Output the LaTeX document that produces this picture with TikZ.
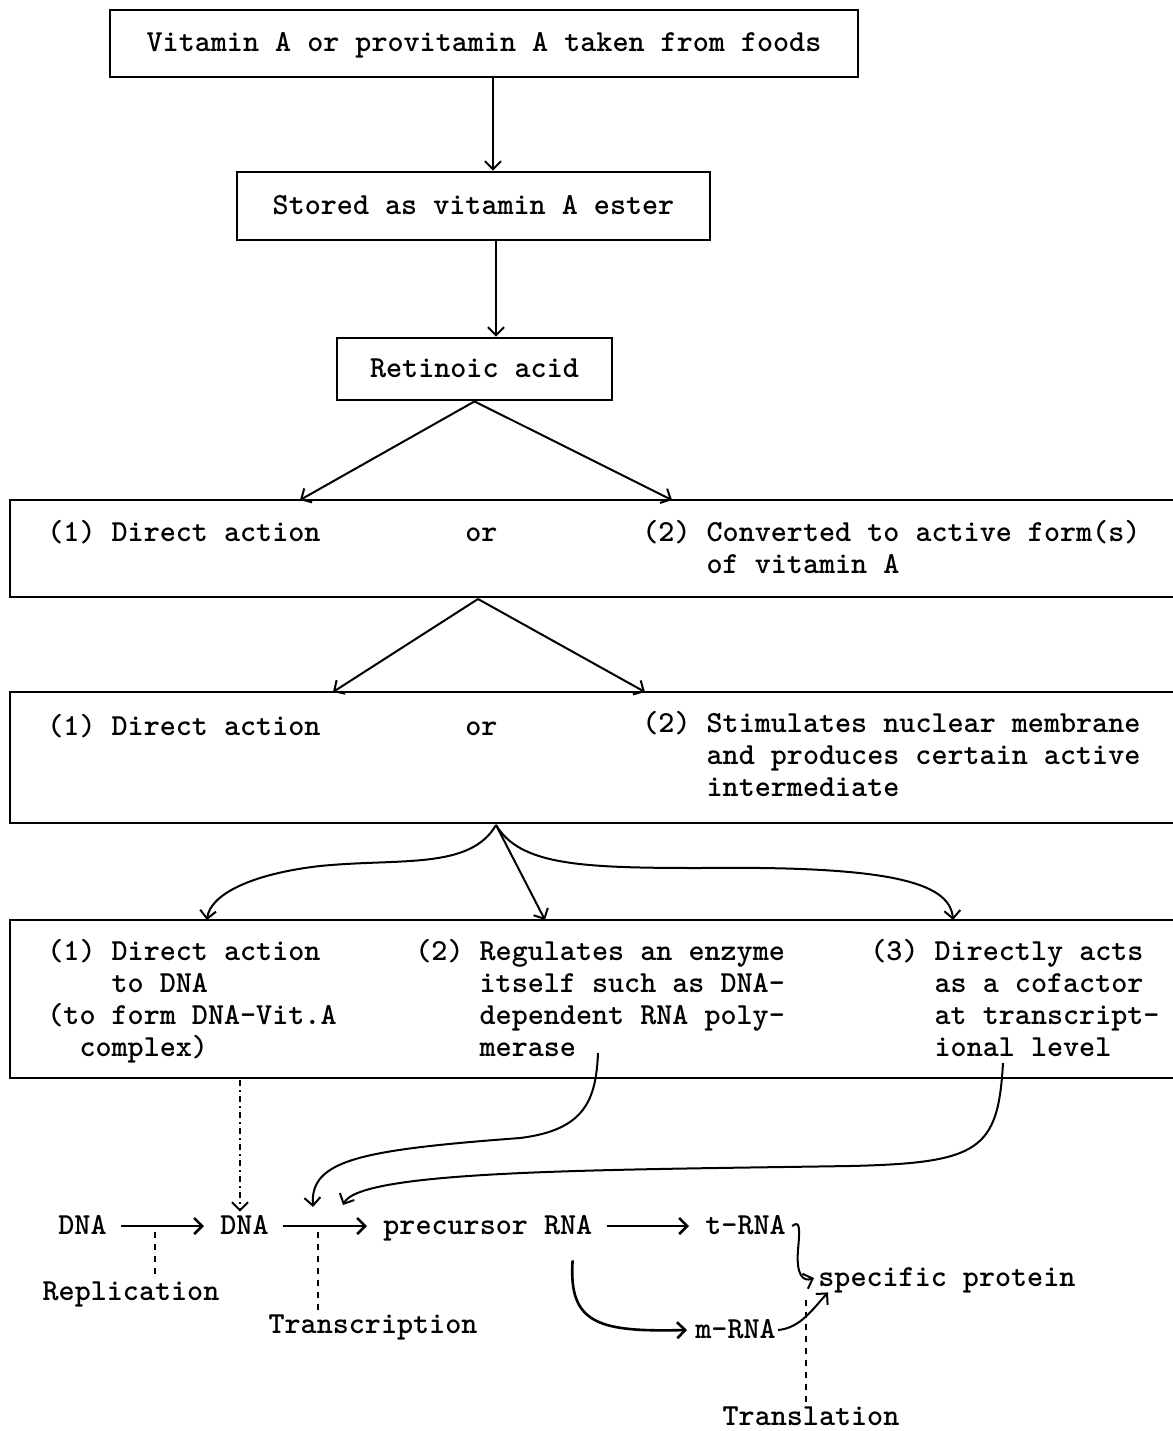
\documentclass[tikz,border=0pt]{standalone}
\usepackage{tikz}
\usetikzlibrary{arrows.meta}

\newcommand{\vstrut}{\rule{0pt}{12pt}}

\begin{document}
\begin{tikzpicture}[
        x=0.5pt, y=-0.5pt,
        >={Straight Barb[length=4pt,width=8pt]},
        every node/.style={font=\fontsize{15.3}{16}\selectfont\ttfamily\bfseries},
        box/.style={draw, line width=1.4pt, text height=11pt, text depth=3pt, inner sep=0pt},
        txt/.style={anchor=west, inner sep=0pt, text height=11pt, text depth=3pt},
        lbl/.style={inner sep=0pt, text height=11pt, text depth=3pt},
        para/.style={anchor=north west, inner sep=0pt, align=left},
        frame/.style={line width=1.4pt},
        link/.style={line width=1pt, ->},
        row/.style={line width=1.3pt, ->, shorten <=7pt, shorten >=8pt},
        stepline/.style={line width=0.8pt, dashed},
    ]
    \useasboundingbox (0,0) rectangle (1173,1431);

    % top boxes
    \node[box, minimum width=374pt, minimum height=33.5pt] (food) at (484,43.5) {Vitamin A or provitamin A taken from foods};
    \node[box, minimum width=236.5pt, minimum height=34pt] (stored) at (473.5,206) {Stored as vitamin A ester};
    \node[box, minimum width=137.5pt, minimum height=31pt] (retinoic) at (474.5,369) {Retinoic acid};

    % wide boxes, open on the right
    \draw[frame] (1173,500) -| (10,597) -- (1173,597);
    \draw[frame] (1173,692) -| (10,823) -- (1173,823);
    \draw[frame] (1173,920) -| (10,1078) -- (1173,1078);

    \node[txt] (directA) at (47,533) {(1) Direct action};
    \node[txt] (orA) at (465,533) {or};
    \node[para] (convert) at (642,517) {\vstrut(2) Converted to active form(s)\\\phantom{(2) }of vitamin A};

    \node[txt] (directB) at (47,727) {(1) Direct action};
    \node[txt] (orB) at (465,727) {or};
    \node[para] (stimulate) at (642,708) {\vstrut(2) Stimulates nuclear membrane\\\phantom{(2) }and produces certain active\\\phantom{(2) }intermediate};

    \node[para] (todna) at (47,936) {\vstrut(1) Direct action\\\phantom{(1) }to DNA\\(to form DNA-Vit.A\\\phantom{(t}complex)};
    \node[para] (enzyme) at (415,936) {\vstrut(2) Regulates an enzyme\\\phantom{(2) }itself such as DNA-\\\phantom{(2) }dependent RNA poly-\\\phantom{(2) }merase};
    \node[para] (cofactor) at (870,936) {\vstrut(3) Directly acts\\\phantom{(3) }as a cofactor\\\phantom{(3) }at transcript-\\\phantom{(3) }ional level};

    % bottom row
    \node[txt] (dnaA) at (58,1226) {DNA};
    \node[txt] (dnaB) at (220,1226) {DNA};
    \node[txt] (precursor) at (383,1226) {precursor RNA};
    \node[txt] (trna) at (705,1226) {t-RNA};
    \node[txt] (protein) at (818,1278) {specific protein};
    \node[txt] (mrna) at (695,1330) {m-RNA};
    \node[lbl] (replication) at (131,1292) {Replication};
    \node[lbl] (transcription) at (373,1325) {Transcription};
    \node[lbl] (translation) at (811,1417) {Translation};

    % arrow ends
    \coordinate (foodOut) at (493,77);
    \coordinate (storedOut) at (496,240);
    \coordinate (toDirectA) at (300,500);
    \coordinate (toConvert) at (672,500);
    \coordinate (splitA) at (478,599);
    \coordinate (toDirectB) at (333,692);
    \coordinate (toStim) at (645,692);
    \coordinate (splitB) at (496,825);
    \coordinate (toDna) at (207,920);
    \coordinate (toEnzyme) at (545,920);
    \coordinate (toCofactor) at (953,920);
    \coordinate (dnaLink) at (240,1080);
    \coordinate (enzOut) at (598,1053);
    \coordinate (enzIn) at (313,1207);
    \coordinate (cofOut) at (1003,1063);
    \coordinate (cofIn) at (343,1205);
    \coordinate (replAt) at (155,1232);
    \coordinate (transAt) at (318,1232);
    \coordinate (translAt) at (806,1300);

    \draw[link] (foodOut) -- (foodOut |- stored.north);
    \draw[link] (storedOut) -- (storedOut |- retinoic.north);
    \draw[link] (retinoic.south) -- (toDirectA);
    \draw[link] (retinoic.south) -- (toConvert);
    \draw[link] (splitA) -- (toDirectB);
    \draw[link] (splitA) -- (toStim);
    \draw[link] (splitB) .. controls (470,870) and (400,858) .. (320,866) .. controls (250,874) and (210,895) .. (toDna);
    \draw[link] (splitB) -- (toEnzyme);
    \draw[link] (splitB) .. controls (520,865) and (580,868) .. (700,868) .. controls (880,866) and (950,880) .. (toCofactor);

    \draw[link, dash dot] (dnaLink) -- (dnaLink |- dnaB.north);
    \draw[link] (enzOut) .. controls (596,1100) and (585,1130) .. (520,1138) .. controls (360,1150) and (310,1160) .. (enzIn);
    \draw[link] (cofOut) .. controls (998,1150) and (980,1163) .. (850,1166) .. controls (600,1170) and (360,1170) .. (cofIn);

    \draw[row] (dnaA) -- (dnaB);
    \draw[row] (dnaB) -- (precursor);
    \draw[row] (precursor) -- (trna);
    \draw[link, line width=1.3pt] ([xshift=-10pt,yshift=-10pt]precursor.south east) .. controls (568,1325) and (600,1332) .. ([xshift=-4pt]mrna.west);
    \draw[link] ([xshift=3pt]trna.east) .. controls (800,1220) and (800,1228) .. (798,1250) .. controls (796,1275) and (803,1282) .. ([xshift=-2pt]protein.west);
    \draw[link] ([xshift=1pt]mrna.east) .. controls (800,1328) and (812,1310) .. ([xshift=5pt]protein.south west);

    \draw[stepline] (replAt) -- (replAt |- replication.north);
    \draw[stepline] (transAt) -- (transAt |- transcription.north);
    \draw[stepline] (translAt) -- (translAt |- translation.north);
\end{tikzpicture}
\end{document}
